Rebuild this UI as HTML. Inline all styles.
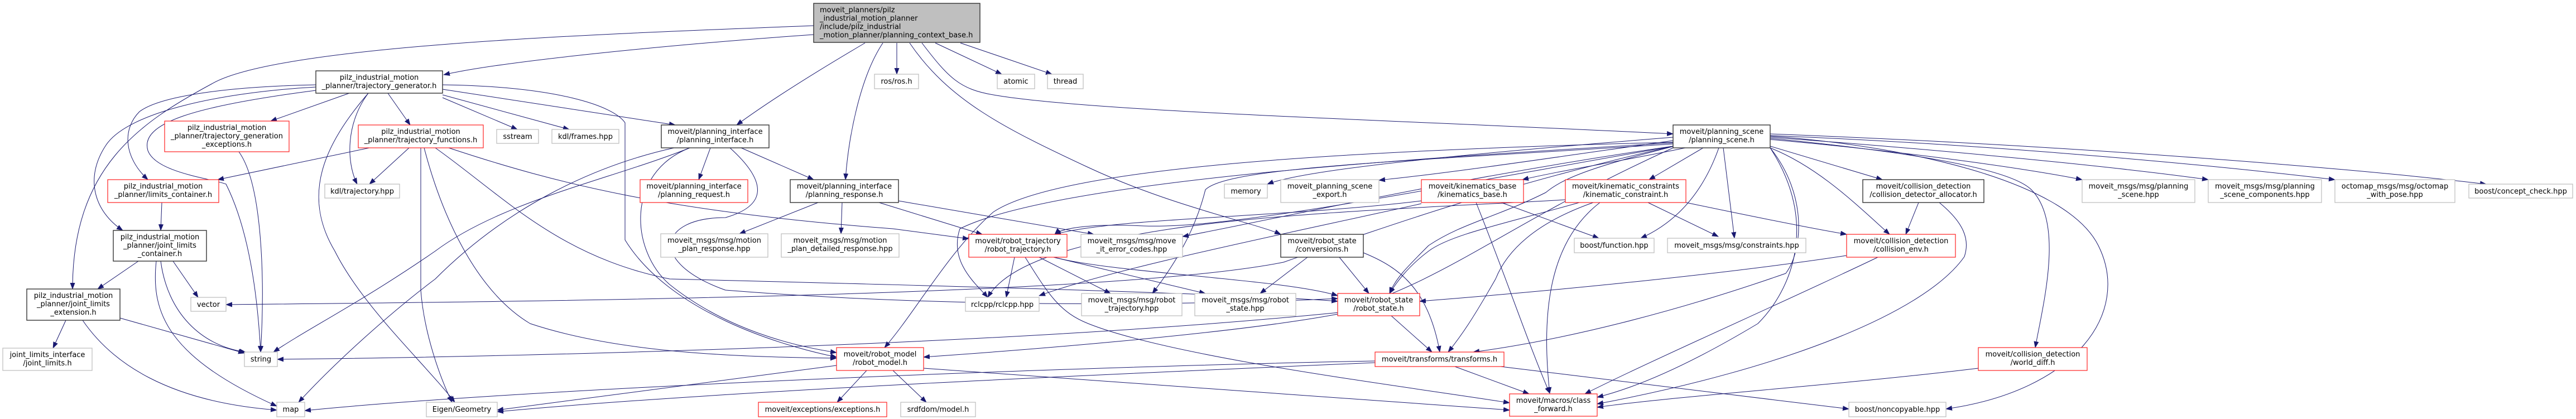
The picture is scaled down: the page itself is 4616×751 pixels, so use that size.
<!DOCTYPE html>
<html><head><meta charset="utf-8"><style>
html,body{margin:0;padding:0;background:#fff;}
svg{display:block;}
text{font-family:"DejaVu Sans","Liberation Sans",sans-serif;font-size:13px;fill:#000;}
.e{fill:none;stroke:#191970;stroke-width:1;marker-end:url(#a);}
.g{fill:#fff;stroke:#bfbfbf;stroke-width:1.3;}
.b{fill:#fff;stroke:#333;stroke-width:1.4;}
.r{fill:#fff;stroke:#ff2020;stroke-width:1.2;}
</style></head><body>
<svg width="4616" height="751" viewBox="0 0 4616 751" xmlns="http://www.w3.org/2000/svg">
<defs><marker id="a" markerWidth="12" markerHeight="9" refX="11" refY="4.5" orient="auto" markerUnits="userSpaceOnUse"><path d="M0,0 L12,4.5 L0,9 z" fill="#191970"/></marker></defs>
<g>
<path class="e" d="M1458,46 C1100,60 500,80 380,150 C250,220 130,300 130,518"/>
<path class="e" d="M1458,62 C1200,80 900,110 795,134"/>
<path class="e" d="M1550,77 C1460,130 1380,180 1320,224"/>
<path class="e" d="M1582,77 C1540,140 1520,250 1515,322"/>
<path class="e" d="M1607,77 L1607,133"/>
<path class="e" d="M1676,77 L1795,133"/>
<path class="e" d="M1721,77 L1885,133"/>
<path class="e" d="M1652,77 C1700,140 1720,160 1780,170 C1950,200 2500,215 2998,240"/>
<path class="e" d="M1630,77 C1700,180 1800,230 1950,300 C2100,370 2250,400 2295,420"/>
<path class="e" d="M566,152 C420,155 290,170 250,200 C220,230 220,280 265,322"/>
<path class="e" d="M566,156 C400,165 230,200 190,260 C150,320 170,380 220,413"/>
<path class="e" d="M566,162 C350,190 250,220 265,270 C280,310 380,320 405,330 C440,400 460,500 467,631"/>
<path class="e" d="M626,167 L485,217"/>
<path class="e" d="M695,167 L735,224"/>
<path class="e" d="M660,167 C620,220 620,290 640,330"/>
<path class="e" d="M660,167 C580,260 540,350 600,450 C650,550 760,650 815,721"/>
<path class="e" d="M793,175 L927,232"/>
<path class="e" d="M793,170 L1020,232"/>
<path class="e" d="M793,160 L1210,224"/>
<path class="e" d="M793,152 C1000,155 1100,190 1120,220 L1120,430 C1200,560 1400,620 1499,640"/>
<path class="e" d="M428,272 C470,330 475,500 467,631"/>
<path class="e" d="M662,265 L390,322"/>
<path class="e" d="M733,265 L662,330"/>
<path class="e" d="M754,265 L754,520 C760,600 790,680 810,721"/>
<path class="e" d="M760,265 C790,380 850,520 950,580 C1100,630 1300,640 1499,642"/>
<path class="e" d="M780,265 C900,350 1000,460 1200,500 C1600,510 2200,525 2397,540"/>
<path class="e" d="M804,265 C1000,330 1200,380 1600,410 L1736,428"/>
<path class="e" d="M290,363 L288,413"/>
<path class="e" d="M248,468 L175,518"/>
<path class="e" d="M288,468 C300,560 360,620 440,631"/>
<path class="e" d="M280,468 C270,560 300,640 496,728"/>
<path class="e" d="M310,468 L355,533"/>
<path class="e" d="M118,574 L95,624"/>
<path class="e" d="M215,570 L438,633"/>
<path class="e" d="M148,574 C200,650 300,720 496,735"/>
<path class="e" d="M1273,265 L1252,322"/>
<path class="e" d="M1328,265 L1458,322"/>
<path class="e" d="M1236,265 C1100,320 900,360 780,450 C650,540 550,590 490,631"/>
<path class="e" d="M1208,265 C1050,300 900,380 780,500 C700,560 600,650 535,721"/>
<path class="e" d="M1236,265 C1120,310 1130,450 1200,510 C1300,590 1420,620 1499,632"/>
<path class="e" d="M1308,265 C1380,330 1370,370 1300,390 C1180,390 1160,470 1300,520 C1800,560 2300,540 2397,535"/>
<path class="e" d="M1466,363 L1325,419"/>
<path class="e" d="M1509,363 L1507,419"/>
<path class="e" d="M1575,363 L1760,420"/>
<path class="e" d="M1610,360 L1960,420"/>
<path class="e" d="M1499,655 L891,735"/>
<path class="e" d="M1553,664 L1500,721"/>
<path class="e" d="M1600,664 L1660,721"/>
<path class="e" d="M1655,660 L2705,735"/>
<path class="e" d="M1818,461 L1803,533"/>
<path class="e" d="M1862,461 L1990,526"/>
<path class="e" d="M1888,461 L2160,526"/>
<path class="e" d="M1888,461 C2000,490 2300,500 2397,530"/>
<path class="e" d="M1837,461 C1880,530 1900,560 1950,580 C2100,640 2500,690 2705,722"/>
<path class="e" d="M2343,461 L2258,526"/>
<path class="e" d="M2400,461 L2453,526"/>
<path class="e" d="M2443,453 C2510,480 2560,520 2580,631"/>
<path class="e" d="M2493,566 L2566,631"/>
<path class="e" d="M2397,563 C2200,600 1800,630 1655,640"/>
<path class="e" d="M2607,657 L2740,706"/>
<path class="e" d="M2464,650 C2000,670 1300,700 891,738"/>
<path class="e" d="M2464,647 C1800,660 900,700 546,736"/>
<path class="e" d="M2689,657 L3313,733"/>
<path class="e" d="M2690,363 L2865,427"/>
<path class="e" d="M2645,363 C2700,500 2740,620 2777,705"/>
<path class="e" d="M2547,360 C2300,390 2000,390 1890,420"/>
<path class="e" d="M2547,365 C2300,420 2000,480 1862,530"/>
<path class="e" d="M2953,363 L3079,424"/>
<path class="e" d="M2830,363 C2700,400 2600,420 2560,450 C2520,480 2500,510 2490,526"/>
<path class="e" d="M2855,363 C2750,400 2700,450 2680,500 C2640,570 2620,600 2595,631"/>
<path class="e" d="M2867,363 C2780,430 2760,550 2777,705"/>
<path class="e" d="M3021,363 C3150,390 3250,410 3309,420"/>
<path class="e" d="M2805,358 C2600,370 2300,380 2100,410 C1900,440 1800,480 1770,533"/>
<path class="e" d="M2998,246 C2700,270 2350,300 2271,330"/>
<path class="e" d="M2998,252 C2800,280 2600,310 2471,323"/>
<path class="e" d="M3020,265 C2900,290 2800,305 2728,322"/>
<path class="e" d="M3052,265 L2955,322"/>
<path class="e" d="M3080,265 C3050,350 3000,400 2940,427"/>
<path class="e" d="M3088,265 L3108,427"/>
<path class="e" d="M3172,262 L3373,322"/>
<path class="e" d="M3172,265 C3260,300 3330,370 3386,420"/>
<path class="e" d="M3172,250 C3400,270 3620,300 3731,322"/>
<path class="e" d="M3172,246 C3500,270 3800,300 3957,322"/>
<path class="e" d="M3172,243 C3600,260 4000,300 4184,322"/>
<path class="e" d="M3172,240 C3700,260 4200,300 4455,330"/>
<path class="e" d="M3172,248 C3400,270 3600,300 3640,340 C3700,400 3660,550 3647,623"/>
<path class="e" d="M3172,244 C3400,260 3700,320 3760,440 C3820,560 3720,700 3487,733"/>
<path class="e" d="M3000,262 C2850,300 2800,320 2770,345 C2680,390 2620,400 2560,440 C2520,480 2500,500 2490,526"/>
<path class="e" d="M2998,255 C2400,270 1900,300 1780,380 C1700,450 1640,560 1585,623"/>
<path class="e" d="M2998,258 C2500,290 2200,300 2160,340 C2140,420 2100,480 2065,526"/>
<path class="e" d="M2998,256 C2600,280 1900,320 1720,410 C1700,470 1750,510 1770,533"/>
<path class="e" d="M2998,262 C2600,320 2300,390 2119,424"/>
<path class="e" d="M2998,262 C2500,350 2200,410 2050,405 C1950,400 1900,410 1890,420"/>
<path class="e" d="M2998,262 C2700,330 2500,400 2300,470 C2000,530 1000,540 405,546"/>
<path class="e" d="M2998,265 C2700,400 2600,500 2400,560 C1800,620 900,640 497,644"/>
<path class="e" d="M3172,265 C3240,350 3230,450 3200,490 C3000,560 2800,610 2640,631"/>
<path class="e" d="M3172,265 C3260,400 3210,520 3150,580 C3050,640 2950,690 2862,712"/>
<path class="e" d="M3438,363 L3415,420"/>
<path class="e" d="M3475,363 C3520,400 3530,430 3520,460 C3450,560 3200,660 2862,724"/>
<path class="e" d="M3309,458 C3100,490 2800,520 2544,540"/>
<path class="e" d="M3365,461 C3200,540 2950,650 2840,706"/>
<path class="e" d="M3545,660 C3300,690 3000,710 2862,730"/>
</g>
<g>
<rect x="1458" y="6" width="298" height="70" fill="#bfbfbf" stroke="#333" stroke-width="1.4"/>
<text x="1469" y="22">moveit_planners/pilz</text><text x="1469" y="37">_industrial_motion_planner</text><text x="1469" y="52">/include/pilz_industrial</text><text x="1469" y="67">_motion_planner/planning_context_base.h</text>

<rect class="b" x="566" y="127" width="227" height="40"/><text text-anchor="middle" x="679.5" y="143">pilz_industrial_motion</text><text text-anchor="middle" x="679.5" y="158">_planner/trajectory_generator.h</text>
<rect class="r" x="295" y="217" width="223" height="55"/><text text-anchor="middle" x="406.5" y="233">pilz_industrial_motion</text><text text-anchor="middle" x="406.5" y="248">_planner/trajectory_generation</text><text text-anchor="middle" x="406.5" y="263">_exceptions.h</text>
<rect class="r" x="642" y="224" width="224" height="41"/><text text-anchor="middle" x="754" y="240">pilz_industrial_motion</text><text text-anchor="middle" x="754" y="255">_planner/trajectory_functions.h</text>
<rect class="r" x="193" y="322" width="199" height="41"/><text text-anchor="middle" x="292.5" y="338">pilz_industrial_motion</text><text text-anchor="middle" x="292.5" y="353">_planner/limits_container.h</text>
<rect class="g" x="582" y="330" width="134" height="25"/><text text-anchor="middle" x="649" y="347">kdl/trajectory.hpp</text>
<rect class="b" x="203" y="413" width="167" height="55"/><text text-anchor="middle" x="286.5" y="429">pilz_industrial_motion</text><text text-anchor="middle" x="286.5" y="444">_planner/joint_limits</text><text text-anchor="middle" x="286.5" y="459">_container.h</text>
<rect class="b" x="48" y="518" width="167" height="56"/><text text-anchor="middle" x="131.5" y="534">pilz_industrial_motion</text><text text-anchor="middle" x="131.5" y="549">_planner/joint_limits</text><text text-anchor="middle" x="131.5" y="564">_extension.h</text>
<rect class="g" x="342" y="533" width="63" height="25"/><text text-anchor="middle" x="373.5" y="550">vector</text>
<rect class="g" x="5" y="624" width="160" height="40"/><text text-anchor="middle" x="85" y="640">joint_limits_interface</text><text text-anchor="middle" x="85" y="655">/joint_limits.h</text>
<rect class="g" x="438" y="631" width="59" height="26"/><text text-anchor="middle" x="467.5" y="648">string</text>
<rect class="g" x="496" y="721" width="50" height="26"/><text text-anchor="middle" x="521" y="738">map</text>
<rect class="g" x="764" y="721" width="127" height="26"/><text text-anchor="middle" x="827.5" y="738">Eigen/Geometry</text>
<rect class="g" x="890" y="232" width="75" height="25"/><text text-anchor="middle" x="927.5" y="249">sstream</text>
<rect class="g" x="989" y="232" width="120" height="25"/><text text-anchor="middle" x="1049" y="249">kdl/frames.hpp</text>
<rect class="b" x="1185" y="224" width="193" height="41"/><text text-anchor="middle" x="1281.5" y="240">moveit/planning_interface</text><text text-anchor="middle" x="1281.5" y="255">/planning_interface.h</text>
<rect class="r" x="1147" y="322" width="193" height="41"/><text text-anchor="middle" x="1243.5" y="338">moveit/planning_interface</text><text text-anchor="middle" x="1243.5" y="353">/planning_request.h</text>
<rect class="b" x="1416" y="322" width="194" height="41"/><text text-anchor="middle" x="1513" y="338">moveit/planning_interface</text><text text-anchor="middle" x="1513" y="353">/planning_response.h</text>
<rect class="g" x="1184" y="419" width="192" height="42"/><text text-anchor="middle" x="1280" y="435">moveit_msgs/msg/motion</text><text text-anchor="middle" x="1280" y="450">_plan_response.hpp</text>
<rect class="g" x="1400" y="419" width="211" height="42"/><text text-anchor="middle" x="1505.5" y="435">moveit_msgs/msg/motion</text><text text-anchor="middle" x="1505.5" y="450">_plan_detailed_response.hpp</text>
<rect class="r" x="1499" y="623" width="156" height="41"/><text text-anchor="middle" x="1577" y="639">moveit/robot_model</text><text text-anchor="middle" x="1577" y="654">/robot_model.h</text>
<rect class="r" x="1359" y="721" width="230" height="26"/><text text-anchor="middle" x="1474" y="738">moveit/exceptions/exceptions.h</text>
<rect class="g" x="1567" y="133" width="79" height="26"/><text text-anchor="middle" x="1606.5" y="150">ros/ros.h</text>
<rect class="g" x="1787" y="133" width="67" height="26"/><text text-anchor="middle" x="1820.5" y="150">atomic</text>
<rect class="g" x="1877" y="133" width="64" height="26"/><text text-anchor="middle" x="1909" y="150">thread</text>
<rect class="r" x="1736" y="420" width="176" height="41"/><text text-anchor="middle" x="1824" y="436">moveit/robot_trajectory</text><text text-anchor="middle" x="1824" y="451">/robot_trajectory.h</text>
<rect class="g" x="1937" y="420" width="182" height="41"/><text text-anchor="middle" x="2028" y="436">moveit_msgs/msg/move</text><text text-anchor="middle" x="2028" y="451">_it_error_codes.hpp</text>
<rect class="b" x="2295" y="420" width="148" height="41"/><text text-anchor="middle" x="2369" y="436">moveit/robot_state</text><text text-anchor="middle" x="2369" y="451">/conversions.h</text>
<rect class="g" x="1730" y="533" width="132" height="25"/><text text-anchor="middle" x="1796" y="550">rclcpp/rclcpp.hpp</text>
<rect class="g" x="1938" y="526" width="180" height="40"/><text text-anchor="middle" x="2028" y="542">moveit_msgs/msg/robot</text><text text-anchor="middle" x="2028" y="557">_trajectory.hpp</text>
<rect class="g" x="2141" y="526" width="181" height="40"/><text text-anchor="middle" x="2231.5" y="542">moveit_msgs/msg/robot</text><text text-anchor="middle" x="2231.5" y="557">_state.hpp</text>
<rect class="g" x="2194" y="330" width="77" height="25"/><text text-anchor="middle" x="2232.5" y="347">memory</text>
<rect class="g" x="2295" y="322" width="176" height="41"/><text text-anchor="middle" x="2383" y="338">moveit_planning_scene</text><text text-anchor="middle" x="2383" y="353">_export.h</text>
<rect class="g" x="1614" y="721" width="134" height="26"/><text text-anchor="middle" x="1681" y="738">srdfdom/model.h</text>
<rect class="b" x="2998" y="224" width="174" height="41"/><text text-anchor="middle" x="3085" y="240">moveit/planning_scene</text><text text-anchor="middle" x="3085" y="255">/planning_scene.h</text>
<rect class="r" x="2547" y="322" width="183" height="41"/><text text-anchor="middle" x="2638.5" y="338">moveit/kinematics_base</text><text text-anchor="middle" x="2638.5" y="353">/kinematics_base.h</text>
<rect class="r" x="2805" y="322" width="216" height="41"/><text text-anchor="middle" x="2913" y="338">moveit/kinematic_constraints</text><text text-anchor="middle" x="2913" y="353">/kinematic_constraint.h</text>
<rect class="g" x="2821" y="427" width="143" height="26"/><text text-anchor="middle" x="2892.5" y="444">boost/function.hpp</text>
<rect class="g" x="2988" y="427" width="248" height="26"/><text text-anchor="middle" x="3112" y="444">moveit_msgs/msg/constraints.hpp</text>
<rect class="r" x="2397" y="526" width="147" height="40"/><text text-anchor="middle" x="2470.5" y="542">moveit/robot_state</text><text text-anchor="middle" x="2470.5" y="557">/robot_state.h</text>
<rect class="r" x="2464" y="631" width="231" height="26"/><text text-anchor="middle" x="2579.5" y="648">moveit/transforms/transforms.h</text>
<rect class="r" x="2705" y="706" width="157" height="40"/><text text-anchor="middle" x="2783.5" y="722">moveit/macros/class</text><text text-anchor="middle" x="2783.5" y="737">_forward.h</text>
<rect class="b" x="3338" y="322" width="217" height="41"/><text text-anchor="middle" x="3446.5" y="338">moveit/collision_detection</text><text text-anchor="middle" x="3446.5" y="353">/collision_detector_allocator.h</text>
<rect class="g" x="3731" y="322" width="202" height="41"/><text text-anchor="middle" x="3832" y="338">moveit_msgs/msg/planning</text><text text-anchor="middle" x="3832" y="353">_scene.hpp</text>
<rect class="g" x="3957" y="322" width="203" height="41"/><text text-anchor="middle" x="4058.5" y="338">moveit_msgs/msg/planning</text><text text-anchor="middle" x="4058.5" y="353">_scene_components.hpp</text>
<rect class="g" x="4184" y="322" width="215" height="41"/><text text-anchor="middle" x="4291.5" y="338">octomap_msgs/msg/octomap</text><text text-anchor="middle" x="4291.5" y="353">_with_pose.hpp</text>
<rect class="g" x="4424" y="330" width="186" height="25"/><text text-anchor="middle" x="4517" y="347">boost/concept_check.hpp</text>
<rect class="r" x="3309" y="420" width="195" height="41"/><text text-anchor="middle" x="3406.5" y="436">moveit/collision_detection</text><text text-anchor="middle" x="3406.5" y="451">/collision_env.h</text>
<rect class="r" x="3545" y="623" width="195" height="41"/><text text-anchor="middle" x="3642.5" y="639">moveit/collision_detection</text><text text-anchor="middle" x="3642.5" y="654">/world_diff.h</text>
<rect class="g" x="3313" y="721" width="174" height="26"/><text text-anchor="middle" x="3400" y="738">boost/noncopyable.hpp</text>
</g>
</svg>
</body></html>
